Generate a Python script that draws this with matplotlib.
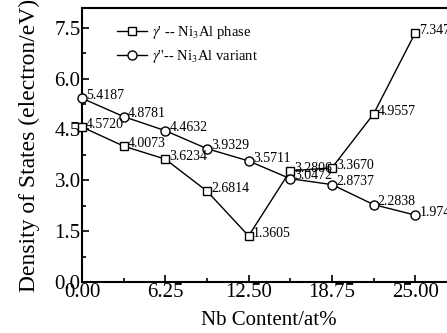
import matplotlib
matplotlib.use("Agg")
import matplotlib.pyplot as plt
from matplotlib.ticker import MultipleLocator

plt.rcParams['font.family'] = ['Liberation Serif', 'DejaVu Serif']
plt.rcParams['mathtext.fontset'] = 'stix'

# Nb content (at%)
nb = [0.0, 3.125, 6.25, 9.375, 12.5, 15.625, 18.75, 21.875, 25.0]
# density of states, gamma' phase and gamma'' variant
dos_phase = [4.5720, 4.0073, 3.6234, 2.6814, 1.3605, 3.2806, 3.3670, 4.9557, 7.3470]
dos_variant = [5.4187, 4.8781, 4.4632, 3.9329, 3.5711, 3.0472, 2.8737, 2.2838, 1.9740]
xticks = [0.0, 6.25, 12.5, 18.75, 25.0]
xticklabels = ['0.00', '6.25', '12.50', '18.75', '25.00']

fig = plt.figure(figsize=(4.47, 3.33), dpi=100)
ax = fig.add_axes([0.1834, 0.153, 0.835, 0.823])

ax.plot(nb, dos_phase, '-s', color='k', lw=1, ms=6, mfc='white', mec='k', mew=1,
        label=r"$\gamma$' -- Ni$_3$Al phase", clip_on=False, zorder=3)
ax.plot(nb, dos_variant, '-o', color='k', lw=1, ms=6.5, mfc='white', mec='k', mew=1,
        label=r"$\gamma$''-- Ni$_3$Al variant", clip_on=False, zorder=3)

for x, y in zip(nb, dos_phase):
    ax.annotate('%.4f' % y, (x, y), xytext=(3, 2), textcoords='offset points',
                fontsize=10, va='center', ha='left', annotation_clip=False)
for x, y in zip(nb, dos_variant):
    ax.annotate('%.4f' % y, (x, y), xytext=(3, 2), textcoords='offset points',
                fontsize=10, va='center', ha='left', annotation_clip=False)

ax.set_xlim(0, 28)
ax.set_ylim(0, 8.08)
ax.set_xticks(xticks)
ax.set_xticklabels(xticklabels)
ax.xaxis.set_minor_locator(MultipleLocator(3.125))
ax.yaxis.set_major_locator(MultipleLocator(1.5))
ax.yaxis.set_minor_locator(MultipleLocator(0.75))
ax.tick_params(which='both', direction='in', labelsize=15, width=1.2)
ax.tick_params(which='major', length=5)
ax.tick_params(which='minor', length=3)
ax.tick_params(axis='x', pad=1)
ax.tick_params(axis='y', pad=1)
for s in ax.spines.values():
    s.set_linewidth(1.5)

ax.set_xlabel('Nb Content/at%', fontsize=15, labelpad=6)
ax.set_ylabel('Density of States (electron/eV)', fontsize=17, labelpad=10)

ax.legend(loc='upper left', bbox_to_anchor=(0.06, 0.99), frameon=False,
          fontsize=10.5, handlelength=2.0, handletextpad=0.4, labelspacing=0.5)

fig.savefig('out.png', dpi=100)
